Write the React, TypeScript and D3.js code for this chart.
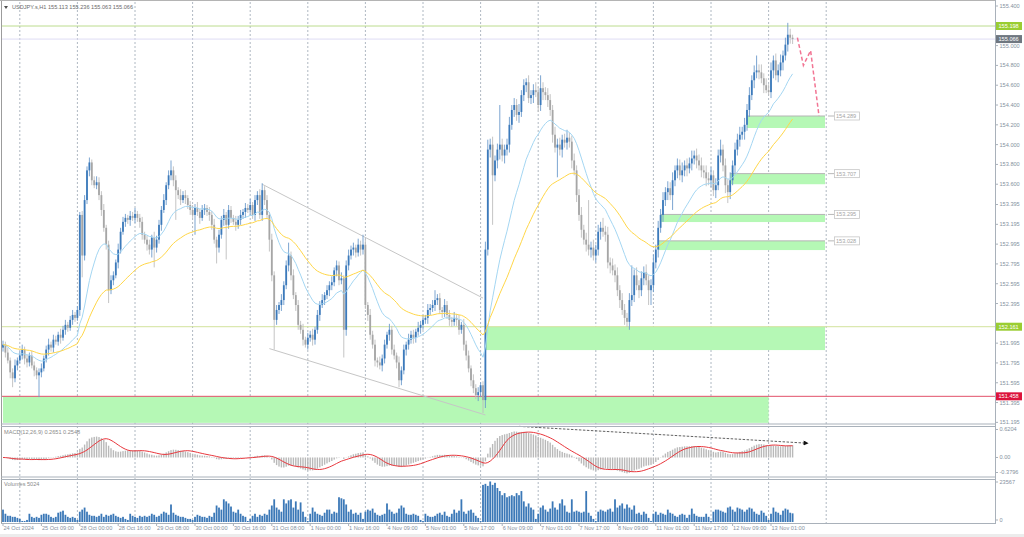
// USDJPY H1 chart: candles, MAs, zones, MACD and volumes
import React, { useEffect, useRef } from 'react';
import * as d3 from 'd3';

const W = 1024;
const H = 537;

const firstOpen = 151.95;

// hourly closes, 24 Oct 17:00 .. 13 Nov 10:00
const closes = [
  151.98, 151.90, 151.82, 151.70, 151.64, 151.77, 151.82, 151.87, 151.93, 151.84,
  151.80, 151.87, 151.77, 151.72, 151.67, 151.70, 151.74, 151.84, 151.93, 151.98,
  151.95, 152.03, 152.01, 152.08, 152.05, 152.13, 152.18, 152.15, 152.23, 152.28,
  152.25, 152.33, 153.29, 152.88, 153.44, 153.74, 153.82, 153.64, 153.59, 153.62,
  153.49, 153.34, 153.16, 152.99, 152.53, 152.63, 152.68, 152.81, 152.94, 153.12,
  153.22, 153.26, 153.24, 153.28, 153.26, 153.30, 153.26, 153.22, 153.09, 153.04,
  152.99, 152.94, 153.06, 152.96, 153.04, 153.19, 153.34, 153.44, 153.59, 153.69,
  153.74, 153.64, 153.54, 153.49, 153.44, 153.49, 153.46, 153.39, 153.34, 153.29,
  153.36, 153.32, 153.26, 153.34, 153.36, 153.32, 153.29, 153.19, 153.04, 152.96,
  153.09, 153.24, 153.29, 153.19, 153.34, 153.26, 153.22, 153.19, 153.24, 153.29,
  153.32, 153.36, 153.34, 153.39, 153.29, 153.44, 153.49, 153.29, 153.54, 153.44,
  153.29, 153.04, 152.68, 152.23, 152.33, 152.38, 152.43, 152.58, 152.78, 152.88,
  152.68, 152.48, 152.38, 152.18, 152.13, 152.03, 151.98, 152.05, 152.08, 152.03,
  152.13, 152.28, 152.38, 152.43, 152.48, 152.53, 152.58, 152.61, 152.73, 152.78,
  152.63, 152.65, 152.13, 152.78, 152.88, 152.94, 152.96, 152.91, 152.99, 152.94,
  152.99, 152.38, 152.28, 152.08, 151.98, 151.82, 151.80, 151.77, 151.84, 151.98,
  152.08, 152.13, 151.93, 151.87, 151.80, 151.62, 151.72, 151.93, 151.98, 152.03,
  152.08, 152.05, 152.11, 152.15, 152.18, 152.23, 152.25, 152.33, 152.35, 152.38,
  152.43, 152.45, 152.33, 152.31, 152.38, 152.28, 152.23, 152.21, 152.25, 152.23,
  152.13, 152.18, 151.98, 151.87, 151.74, 151.62, 151.54, 151.47, 151.50, 151.57,
  151.42, 152.94, 153.95, 154.00, 153.69, 153.84, 153.95, 154.00, 153.89, 153.95,
  154.00, 154.20, 154.35, 154.40, 154.30, 154.33, 154.50, 154.60, 154.63, 154.47,
  154.50, 154.55, 154.53, 154.40, 154.57, 154.53, 154.50, 154.45, 154.35, 154.10,
  153.97, 154.00, 153.95, 154.05, 154.02, 154.07, 154.03, 153.84, 153.74, 153.49,
  153.29, 153.14, 153.04, 152.99, 152.94, 152.96, 152.88, 152.94, 153.12, 153.16,
  153.12, 153.09, 152.81, 152.78, 152.73, 152.68, 152.53, 152.43, 152.33, 152.25,
  152.21, 152.43, 152.48, 152.68, 152.58, 152.53, 152.65, 152.71, 152.63, 152.53,
  152.58, 152.81, 152.94, 153.16, 153.29, 153.44, 153.52, 153.56, 153.49, 153.64,
  153.74, 153.79, 153.69, 153.74, 153.79, 153.76, 153.81, 153.86, 153.89, 153.84,
  153.79, 153.74, 153.72, 153.66, 153.64, 153.69, 153.54, 153.59, 153.89, 153.95,
  153.79, 153.59, 153.52, 153.64, 153.79, 153.95, 154.05, 154.10, 154.13, 154.20,
  154.35, 154.50, 154.65, 154.73, 154.75, 154.73, 154.67, 154.60, 154.55, 154.53,
  154.75, 154.85, 154.70, 154.75, 154.83, 154.90, 155.01, 155.11, 155.08, 155.066,
];

// wick lengths above / below the body, in pips (0.01)
const upWick = [
  4, 3, 5, 3, 4, 6, 3, 4, 5, 3, 4, 3, 5, 4, 3, 4, 5, 3, 4, 6,
  3, 5, 4, 3, 6, 4, 5, 3, 4, 5, 3, 4, 3, 4, 5, 4, 5, 3, 4, 6,
  5, 4, 6, 3, 4, 5, 4, 3, 6, 4, 5, 4, 3, 5, 4, 6, 3, 4, 5, 3,
  4, 5, 3, 6, 4, 5, 4, 6, 3, 5, 10, 4, 5, 3, 6, 4, 5, 3, 4, 5,
  4, 6, 3, 5, 4, 3, 5, 4, 6, 3, 5, 4, 6, 3, 5, 4, 3, 6, 4, 5,
  3, 5, 4, 6, 3, 5, 4, 6, 7, 4, 5, 3, 6, 4, 5, 3, 6, 4, 5, 13,
  4, 6, 3, 5, 4, 6, 3, 5, 4, 6, 3, 5, 4, 6, 3, 5, 4, 6, 3, 5,
  4, 6, 3, 5, 6, 4, 5, 3, 6, 4, 10, 5, 3, 6, 4, 5, 3, 6, 4, 5,
  3, 6, 4, 5, 3, 6, 4, 5, 3, 6, 4, 5, 3, 6, 4, 5, 3, 6, 4, 5,
  10, 4, 5, 3, 6, 4, 5, 3, 6, 4, 5, 3, 6, 4, 5, 3, 6, 4, 5, 3,
  4, 8, 10, 6, 8, 5, 6, 40, 6, 5, 6, 8, 5, 7, 6, 8, 5, 6, 4, 7,
  5, 6, 8, 5, 13, 6, 5, 7, 6, 5, 8, 6, 7, 5, 6, 8, 5, 6, 7, 5,
  6, 8, 5, 7, 45, 6, 8, 5, 7, 6, 10, 6, 8, 5, 7, 6, 8, 5, 7, 6,
  5, 7, 30, 6, 8, 5, 7, 6, 8, 5, 6, 8, 5, 7, 6, 8, 5, 7, 6, 8,
  5, 7, 6, 8, 5, 7, 6, 8, 5, 7, 6, 8, 5, 7, 6, 8, 5, 7, 6, 10,
  5, 7, 6, 8, 5, 7, 6, 8, 5, 7, 6, 8, 5, 7, 15, 6, 8, 5, 7, 6,
  8, 5, 7, 6, 8, 5, 7, 12, 6, 3,
];

const dnWick = [
  4, 5, 3, 6, 9, 4, 5, 3, 4, 6, 5, 4, 3, 6, 4, 22, 5, 3, 4, 6,
  4, 5, 3, 4, 6, 3, 5, 4, 3, 5, 4, 3, 6, 22, 5, 4, 6, 5, 3, 4,
  5, 6, 4, 5, 13, 4, 5, 3, 6, 4, 3, 5, 4, 6, 3, 5, 4, 6, 5, 4,
  6, 5, 8, 20, 5, 4, 6, 3, 5, 4, 5, 6, 30, 4, 5, 3, 6, 4, 5, 3,
  20, 4, 6, 3, 5, 4, 6, 5, 4, 16, 5, 4, 6, 35, 4, 5, 3, 6, 4, 5,
  4, 6, 3, 5, 4, 6, 5, 4, 6, 5, 4, 12, 6, 30, 5, 4, 6, 5, 4, 6,
  5, 4, 6, 5, 4, 6, 3, 5, 4, 6, 5, 4, 6, 3, 5, 4, 6, 5, 4, 6,
  5, 4, 28, 6, 5, 4, 6, 5, 4, 6, 5, 4, 6, 5, 4, 6, 5, 4, 6, 5,
  4, 6, 5, 4, 6, 7, 5, 4, 6, 5, 4, 6, 5, 4, 6, 5, 4, 6, 5, 4,
  6, 5, 4, 6, 5, 4, 6, 5, 4, 6, 5, 4, 6, 5, 4, 6, 5, 4, 6, 5,
  13, 8, 6, 8, 50, 6, 8, 10, 6, 8, 6, 8, 5, 7, 6, 8, 5, 6, 7, 5,
  6, 8, 5, 7, 6, 8, 5, 7, 6, 8, 5, 30, 6, 8, 5, 7, 6, 8, 5, 7,
  6, 8, 5, 7, 6, 8, 5, 7, 6, 8, 5, 7, 6, 8, 5, 7, 6, 8, 5, 7,
  5, 8, 6, 7, 5, 8, 6, 7, 5, 15, 15, 7, 6, 8, 5, 7, 6, 8, 5, 15,
  6, 8, 5, 7, 6, 8, 5, 7, 6, 8, 5, 7, 6, 8, 5, 7, 6, 8, 5, 7,
  6, 8, 11, 7, 5, 8, 6, 7, 5, 8, 6, 7, 5, 8, 6, 7, 5, 8, 3, 3,
  6, 8, 5, 7, 6, 8, 5, 7, 6, 5,
];

const volumes = [
  7200, 4800, 3600, 3600, 3000, 3000, 2400, 1800, 600, 600,
  1200, 4800, 3000, 2400, 3000, 2400, 4200, 4800, 4800, 4200,
  3000, 2400, 3000, 5400, 6000, 6600, 4200, 3000, 2400, 3000,
  2400, 1200, 6000, 7200, 8400, 6000, 4200, 3600, 3600, 3000,
  3600, 4800, 3000, 4200, 3600, 4200, 4800, 3600, 3000, 2400,
  3000, 1800, 1200, 4800, 3600, 3000, 2400, 3600, 3000, 3600,
  3000, 3600, 4800, 4200, 3000, 3600, 4800, 6000, 5400, 4200,
  10200, 5400, 4200, 3600, 3000, 3000, 2400, 1800, 1800, 1200,
  3000, 4200, 3600, 3000, 3000, 2400, 3600, 3000, 5400, 9600,
  8400, 7200, 13200, 12000, 10800, 9000, 6000, 5400, 7200, 4800,
  3600, 3000, 600, 1800, 3600, 4800, 3000, 4200, 3600, 4800,
  4200, 7200, 9600, 13200, 8400, 7200, 6000, 13200, 10800, 12600,
  13200, 8400, 12000, 7200, 11400, 6000, 3000, 600, 4800, 8400,
  6000, 4800, 4200, 3600, 5400, 7200, 7200, 4800, 6000, 5400,
  14400, 13800, 13200, 10200, 6000, 7200, 4800, 5400, 4200, 5400,
  1800, 6000, 7200, 6600, 7800, 5400, 4200, 3600, 4200, 4800,
  10800, 7200, 6000, 4800, 5400, 7800, 9600, 8400, 4800, 4200,
  4200, 4800, 4200, 3600, 1200, 600, 4800, 3600, 3000, 3000,
  3600, 4800, 5400, 4200, 6000, 3600, 3000, 4800, 7200, 5400,
  6600, 13200, 6000, 4800, 6600, 7200, 5400, 3600, 2400, 600,
  21600, 22200, 21000, 23567, 21600, 22800, 19800, 18000, 15600, 16800,
  14400, 15000, 15600, 15000, 16800, 15600, 18000, 12000, 9000, 10800,
  8400, 7200, 1800, 4800, 8400, 9600, 7200, 6000, 7800, 12000,
  8400, 7200, 10800, 13200, 9600, 6000, 5400, 13200, 6000, 6600,
  6000, 5400, 6000, 18000, 5400, 3600, 1800, 600, 6000, 7200,
  6600, 6000, 7200, 7800, 6000, 13200, 8400, 9600, 10800, 7800,
  10200, 8400, 7200, 9600, 4800, 5400, 4200, 6000, 4800, 2400,
  600, 4800, 6000, 4200, 5400, 4800, 4200, 7200, 5400, 4800,
  3600, 3000, 4200, 4800, 4200, 2400, 4200, 7800, 4800, 3600,
  3000, 3000, 3000, 4800, 3000, 600, 6000, 7200, 7200, 6600,
  6000, 5400, 8400, 9000, 7200, 6000, 8400, 7800, 7200, 6000,
  7200, 8400, 7800, 6000, 4800, 4200, 6600, 5400, 3600, 1200,
  4800, 8400, 6000, 5400, 4200, 6600, 7800, 7200, 5400, 5024,
];

// day separators (bar index of 00:00)
const daySepBars = [7, 31, 55, 79, 103, 127, 151, 175, 199, 223, 247, 271, 295, 319, 343];

// time axis: one label every 16 bars
const timeLabels = [
  '24 Oct 2024', '25 Oct 09:00', '28 Oct 00:00', '28 Oct 16:00', '29 Oct 08:00',
  '30 Oct 00:00', '30 Oct 16:00', '31 Oct 08:00', '1 Nov 00:00', '1 Nov 16:00',
  '4 Nov 09:00', '5 Nov 01:00', '5 Nov 17:00', '6 Nov 09:00', '7 Nov 01:00',
  '7 Nov 17:00', '8 Nov 09:00', '11 Nov 01:00', '11 Nov 17:00', '12 Nov 09:00',
  '13 Nov 01:00',
];

// price grid labels (155.200 and 152.195 sit under the level boxes)
const priceTicks = [
  155.4, 155.0, 154.8, 154.6, 154.4, 154.2, 154.0, 153.8, 153.6, 153.395,
  153.195, 152.995, 152.795, 152.595, 152.395, 151.995, 151.795, 151.595,
  151.395, 151.195,
];

// demand zones: bar range and price band
const zones = [
  { from: 0, to: 319, top: 151.458, bottom: 151.19, label: '' },
  { from: 201, to: 342.5, top: 152.161, bottom: 151.925, label: '' },
  { from: 310, to: 342.5, top: 154.289, bottom: 154.168, label: '154.289' },
  { from: 303, to: 342.5, top: 153.707, bottom: 153.6, label: '153.707' },
  { from: 274, to: 342.5, top: 153.295, bottom: 153.218, label: '153.295' },
  { from: 273, to: 342.5, top: 153.028, bottom: 152.935, label: '153.028' },
];

// horizontal levels across the chart
const levels = [
  { price: 155.198, line: '#bcdc8e', box: '#9acd32' },
  { price: 155.066, line: '#dedcf4', box: '#6f7780' },
  { price: 152.161, line: '#d2e39c', box: '#9acd32' },
  { price: 151.458, line: '#e2506a', box: '#dc143c' },
];

const channelUpper: [number, number][] = [[108, 153.6], [200, 152.45]];
const channelLower: [number, number][] = [[111, 151.94], [201, 151.27]];
const forecast: [number, number][] = [[331, 155.08], [333.5, 154.8], [336.5, 154.95], [340, 154.29]];
const macdArrow: [number, number][] = [[215, 0.69], [334, 0.32]];

const font = '"Liberation Sans", Arial, sans-serif';
const axisText = '#8691a0';

const ema = (src: number[], n: number) => {
  const k = 2 / (n + 1);
  const out: number[] = [];
  src.forEach((v, i) => out.push(i === 0 ? v : out[i - 1] + k * (v - out[i - 1])));
  return out;
};

const App: React.FC = () => {
  const svgRef = useRef<SVGSVGElement>(null);

  useEffect(() => {
    const svg = d3.select(svgRef.current);
    svg.selectAll('*').remove();

    const opens = closes.map((c, i) => (i === 0 ? firstOpen : closes[i - 1]));
    const highs = closes.map((c, i) => Math.max(opens[i], c) + upWick[i] / 100);
    const lows = closes.map((c, i) => Math.min(opens[i], c) - dnWick[i] / 100);

    const x = d3.scaleLinear().domain([0, 412.5]).range([3, 993]);
    const y = d3.scaleLinear().domain([151.1835, 155.4404]).range([423.5, 2]);
    const yMacd = d3.scaleLinear().domain([-0.3796, 0.6204]).range([474.6, 429.5]);
    const yVol = d3.scaleLinear().domain([0, 23567]).range([522, 481.5]);

    svg.append('rect').attr('width', W).attr('height', H).attr('fill', '#fff');
    svg.append('rect').attr('y', 534).attr('width', W).attr('height', 3).attr('fill', '#ececec');

    const defs = svg.append('defs');
    defs.append('clipPath').attr('id', 'clipMain')
      .append('rect').attr('x', 2).attr('y', 2).attr('width', 993).attr('height', 421.5);
    defs.append('clipPath').attr('id', 'clipMacd')
      .append('rect').attr('x', 2).attr('y', 427).attr('width', 993).attr('height', 49.5);
    defs.append('marker').attr('id', 'arrowHead')
      .attr('viewBox', '0 0 10 10').attr('refX', 2).attr('refY', 5)
      .attr('markerWidth', 7).attr('markerHeight', 5).attr('orient', 'auto')
      .attr('markerUnits', 'userSpaceOnUse')
      .append('path').attr('d', 'M0,0 L10,5 L0,10 z').attr('fill', '#111');

    // day separators through all panels
    daySepBars.forEach((b) => {
      svg.append('line')
        .attr('x1', x(b)).attr('x2', x(b)).attr('y1', 2).attr('y2', 523)
        .attr('stroke', '#9ba6b3').attr('stroke-width', 0.8).attr('stroke-dasharray', '2,2');
    });

    const main = svg.append('g').attr('clip-path', 'url(#clipMain)');

    // zones
    zones.forEach((z) => {
      main.append('rect')
        .attr('x', x(z.from)).attr('y', y(z.top))
        .attr('width', x(z.to) - x(z.from)).attr('height', y(z.bottom) - y(z.top))
        .attr('fill', '#b5f8b5');
      if (z.label) {
        main.append('line')
          .attr('x1', x(z.from)).attr('x2', x(z.to))
          .attr('y1', y(z.top)).attr('y2', y(z.top))
          .attr('stroke', '#b4b4b4').attr('stroke-width', 1);
        const ly = y(z.top);
        svg.append('line').attr('x1', 828).attr('x2', 834).attr('y1', ly).attr('y2', ly)
          .attr('stroke', '#b8b8b8');
        svg.append('rect').attr('x', 834.5).attr('y', ly - 4).attr('width', 25).attr('height', 8)
          .attr('fill', '#fff').attr('stroke', '#c6c6c6').attr('stroke-width', 0.8);
        svg.append('text').attr('x', 836).attr('y', ly).attr('dy', '0.35em')
          .style('font-family', font).style('font-size', '5.6px').attr('fill', '#a4a4a4')
          .text(z.label);
      }
    });

    // horizontal levels
    levels.forEach((l) => {
      main.append('line')
        .attr('x1', 0).attr('x2', 995).attr('y1', y(l.price)).attr('y2', y(l.price))
        .attr('stroke', l.line).attr('stroke-width', 1);
    });

    // channel
    [channelUpper, channelLower].forEach((pts) => {
      main.append('line')
        .attr('x1', x(pts[0][0])).attr('y1', y(pts[0][1]))
        .attr('x2', x(pts[1][0])).attr('y2', y(pts[1][1]))
        .attr('stroke', '#c6c6c6').attr('stroke-width', 1);
    });

    // candles
    closes.forEach((c, i) => {
      const o = opens[i];
      const bull = c >= o;
      const col = bull ? '#3c7abb' : '#a6a6a6';
      main.append('line')
        .attr('x1', x(i)).attr('x2', x(i)).attr('y1', y(highs[i])).attr('y2', y(lows[i]))
        .attr('stroke', bull ? '#6d9bcc' : '#bdbdbd').attr('stroke-width', 0.9);
      const top = y(Math.max(o, c));
      const h = Math.max(1, y(Math.min(o, c)) - top);
      main.append('rect')
        .attr('x', x(i) - 0.9).attr('y', top).attr('width', 1.8).attr('height', h)
        .attr('fill', col);
    });

    // moving averages
    const maLine = d3.line<number>().x((_, i) => x(i)).y((d) => y(d));
    main.append('path').datum(ema(closes, 20))
      .attr('fill', 'none').attr('stroke', '#a4d6f2').attr('stroke-width', 1).attr('d', maLine);
    main.append('path').datum(ema(closes, 50))
      .attr('fill', 'none').attr('stroke', '#ffd648').attr('stroke-width', 1).attr('d', maLine);

    // forecast path
    main.append('path').datum(forecast)
      .attr('fill', 'none').attr('stroke', '#f27594').attr('stroke-width', 1.5)
      .attr('stroke-dasharray', '4,2.5')
      .attr('d', d3.line<[number, number]>().x((d) => x(d[0])).y((d) => y(d[1])));

    // MACD
    const fast = ema(closes, 12);
    const slow = ema(closes, 26);
    const macd = closes.map((_, i) => fast[i] - slow[i]);
    const signal = macd.map((_, i) => d3.mean(macd.slice(Math.max(0, i - 8), i + 1)) as number);
    const mg = svg.append('g').attr('clip-path', 'url(#clipMacd)');
    macd.forEach((m, i) => {
      mg.append('rect')
        .attr('x', x(i) - 0.7).attr('width', 1.4)
        .attr('y', Math.min(yMacd(0), yMacd(m)))
        .attr('height', Math.abs(yMacd(m) - yMacd(0)))
        .attr('fill', '#b9b9b9');
    });
    mg.append('path').datum(signal)
      .attr('fill', 'none').attr('stroke', '#e8363c').attr('stroke-width', 1)
      .attr('d', d3.line<number>().x((_, i) => x(i)).y((d) => yMacd(d)));
    svg.append('line')
      .attr('x1', x(macdArrow[0][0])).attr('y1', yMacd(macdArrow[0][1]))
      .attr('x2', x(macdArrow[1][0])).attr('y2', yMacd(macdArrow[1][1]))
      .attr('stroke', '#3a3a3a').attr('stroke-width', 0.8).attr('stroke-dasharray', '2.5,1.5')
      .attr('marker-end', 'url(#arrowHead)');

    // volumes
    volumes.forEach((v, i) => {
      svg.append('rect')
        .attr('x', x(i) - 0.9).attr('width', 1.8)
        .attr('y', yVol(v)).attr('height', yVol(0) - yVol(v))
        .attr('fill', '#3b78b7');
    });

    // frame and panel separators
    const frame = '#a9b1ba';
    svg.append('line').attr('x1', 1.5).attr('x2', 1.5).attr('y1', 0).attr('y2', 524)
      .attr('stroke', '#9c9c9c');
    svg.append('line').attr('x1', 0).attr('x2', 996).attr('y1', 0.5).attr('y2', 0.5)
      .attr('stroke', '#b4b4b4');
    svg.append('line').attr('x1', 995.5).attr('x2', 995.5).attr('y1', 0).attr('y2', 524)
      .attr('stroke', frame);
    [424, 426.5, 477, 479.5, 523.5].forEach((yy) => {
      svg.append('line').attr('x1', 1).attr('x2', 996).attr('y1', yy).attr('y2', yy)
        .attr('stroke', frame).attr('stroke-width', 1);
    });

    const label = (tx: number, ty: number, s: string, fill = axisText) =>
      svg.append('text').attr('x', tx).attr('y', ty).attr('dy', '0.35em')
        .style('font-family', font).style('font-size', '5.6px').attr('fill', fill).text(s);

    // price axis
    priceTicks.forEach((p) => {
      svg.append('line').attr('x1', 995.5).attr('x2', 998).attr('y1', y(p)).attr('y2', y(p))
        .attr('stroke', frame);
      label(999.5, y(p), p.toFixed(3));
    });
    levels.forEach((l) => {
      svg.append('rect').attr('x', 996).attr('y', y(l.price) - 4).attr('width', 26).attr('height', 8)
        .attr('fill', l.box);
      label(998.5, y(l.price), l.price.toFixed(3), '#fff');
    });

    // MACD and volume axes
    [[0.6204, '0.6204'], [0, '0.00'], [-0.3796, '-0.3796']].forEach(([v, s]) => {
      const yy = Math.min(yMacd(v as number), 472.5);
      svg.append('line').attr('x1', 995.5).attr('x2', 998).attr('y1', yy).attr('y2', yy).attr('stroke', frame);
      label(999.5, yy, s as string);
    });
    label(999.5, 482, '23567');
    label(999.5, 520, '0');
    svg.append('line').attr('x1', 995.5).attr('x2', 998).attr('y1', 482).attr('y2', 482).attr('stroke', frame);
    svg.append('line').attr('x1', 995.5).attr('x2', 998).attr('y1', 520).attr('y2', 520).attr('stroke', frame);

    // time axis
    timeLabels.forEach((t, k) => {
      const tx = x(k * 16);
      svg.append('line').attr('x1', tx).attr('x2', tx).attr('y1', 523.5).attr('y2', 526).attr('stroke', frame);
      label(tx + 0.5, 528.5, t);
    });

    // panel captions
    svg.append('path').attr('d', 'M4,6 L8,6 L6,9 z').attr('fill', '#505050');
    label(12, 7.5, 'USDJPY.s,H1  155.113 155.236 155.063 155.066', '#6a6a6a');
    label(4, 432.5, 'MACD(12,26,9) 0.2651 0.2548', '#8a8a8a');
    label(4, 484.5, 'Volumes 5024', '#8a8a8a');
  }, []);

  return (
    <svg
      ref={svgRef}
      width={W}
      height={H}
      style={{ position: 'absolute', left: 0, top: 0, display: 'block' }}
    />
  );
};

export default App;
